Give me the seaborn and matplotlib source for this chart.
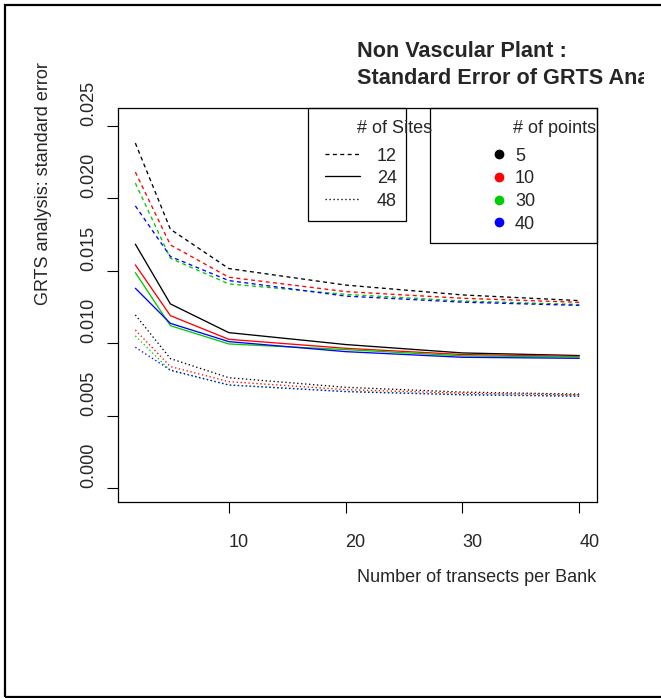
import matplotlib
matplotlib.use("Agg")
import matplotlib.pyplot as plt
import numpy as np
import pandas as pd
import seaborn as sns
from matplotlib.patches import Rectangle
from matplotlib.lines import Line2D
from matplotlib.transforms import Bbox, TransformedBbox

# ---- data -------------------------------------------------------------
transects = [2, 5, 10, 20, 30, 40]
point_levels = ["5", "10", "30", "40"]
site_levels = ["12", "24", "48"]
x_ticks = [10, 20, 30, 40]
y_ticks = [0.000, 0.005, 0.010, 0.015, 0.020, 0.025]
y_tick_labels = ["0.000", "0.005", "0.010", "0.015", "0.020", "0.025"]

# standard error by number of points, one table per number of sites
se_sites12 = {
    "5":  [0.02379, 0.01785, 0.01514, 0.01400, 0.01332, 0.01293],
    "10": [0.02179, 0.01677, 0.01454, 0.01355, 0.01309, 0.01281],
    "30": [0.02103, 0.01585, 0.01408, 0.01336, 0.01290, 0.01266],
    "40": [0.01946, 0.01597, 0.01431, 0.01324, 0.01282, 0.01260],
}
se_sites24 = {
    "5":  [0.01682, 0.01270, 0.01072, 0.00990, 0.00932, 0.00914],
    "10": [0.01539, 0.01189, 0.01026, 0.00964, 0.00921, 0.00908],
    "30": [0.01486, 0.01120, 0.00994, 0.00955, 0.00912, 0.00904],
    "40": [0.01378, 0.01136, 0.01010, 0.00941, 0.00902, 0.00895],
}
se_sites48 = {
    "5":  [0.01194, 0.00893, 0.00761, 0.00695, 0.00662, 0.00648],
    "10": [0.01090, 0.00838, 0.00734, 0.00679, 0.00654, 0.00643],
    "30": [0.01049, 0.00810, 0.00711, 0.00667, 0.00645, 0.00636],
    "40": [0.00971, 0.00814, 0.00711, 0.00665, 0.00643, 0.00633],
}

point_colors = ["black", "#FF0000", "#00CD00", "#0000FF"]
site_dashes = [(3.0, 2.6), "", (1.0, 2.0)]

rows = []
for site, table in zip(site_levels, [se_sites12, se_sites24, se_sites48]):
    for pts in point_levels:
        for t, v in zip(transects, table[pts]):
            rows.append({"transects": t, "se": v, "points": pts, "sites": site})
df = pd.DataFrame(rows)

# ---- figure -----------------------------------------------------------
sns.set_style("white")
plt.rcParams["font.family"] = ["Liberation Sans", "DejaVu Sans"]

W, H, DPI = 661, 698, 100
fig = plt.figure(figsize=(W / DPI, H / DPI), dpi=DPI)
fig.patch.set_facecolor("white")


def fxy(x, y):
    """Pixel position (origin top-left) to figure fraction."""
    return (x / W, 1 - y / H)


p_left, p_right, p_top, p_bottom = 117.6, 597.0, 108.3, 502.3
ax = fig.add_axes([p_left / W, 1 - p_bottom / H,
                   (p_right - p_left) / W, (p_bottom - p_top) / H])

sns.lineplot(
    data=df, x="transects", y="se",
    hue="points", hue_order=point_levels,
    palette=dict(zip(point_levels, point_colors)),
    style="sites", style_order=site_levels,
    dashes=dict(zip(site_levels, site_dashes)),
    linewidth=0.95, errorbar=None, legend=False, ax=ax,
)

ax.set_xlim(0.48, 41.52)
ax.set_ylim(-0.00098, 0.02619)

for sp in ax.spines.values():
    sp.set_visible(True)
    sp.set_color("black")
    sp.set_linewidth(0.9)

base_fs = 13
ax.set_xticks(x_ticks)
ax.set_xticklabels([str(v) for v in x_ticks], ha="left", va="baseline",
                   fontsize=base_fs)
ax.set_yticks(y_ticks)
ax.set_yticklabels(y_tick_labels, rotation=90, rotation_mode="anchor",
                   ha="left", va="baseline", fontsize=base_fs)
ax.tick_params(axis="x", bottom=True, direction="out", length=8.0,
               width=0.8, color="black", pad=24.5)
ax.tick_params(axis="y", left=True, direction="out", length=8.0,
               width=0.8, color="black", pad=9.4)

ax.set_xlabel("Number of transects per Bank", fontsize=base_fs,
              ha="left", va="baseline")
ax.xaxis.set_label_coords((356.7 - p_left) / (p_right - p_left),
                          (p_bottom - 581.5) / (p_bottom - p_top))
ax.set_ylabel("GRTS analysis: standard error", fontsize=base_fs,
              rotation=90, rotation_mode="anchor", ha="left", va="baseline")
ax.yaxis.set_label_coords((48.3 - p_left) / (p_right - p_left), 0.5)

# ---- title (left-anchored, clipped at the right) -------------------------
clip = TransformedBbox(Bbox.from_extents(0, 0, 644 / W, 1), fig.transFigure)
for line, base in [("Non Vascular Plant :", 57.3),
                   ("Standard Error of GRTS Analysis", 84.3)]:
    t = fig.text(*fxy(357.3, base), line, fontsize=15.6, fontweight="bold",
                 ha="left", va="baseline")
    t.set_clip_box(clip)
    t.set_clip_on(True)

# ---- legends ----------------------------------------------------------
def add_box(x0, y0, x1, y1):
    fig.add_artist(Rectangle(fxy(x0, y1), (x1 - x0) / W, (y1 - y0) / H,
                             transform=fig.transFigure, fill=False,
                             ec="black", lw=0.9))

entry_base = [160.7, 183.3, 206.0, 228.7]

add_box(308.3, 108.3, 405.7, 220.7)
fig.text(*fxy(357.3, 132.7), "# of Sites", fontsize=base_fs,
         ha="left", va="baseline")
for i, (site, dash) in enumerate(zip(site_levels, site_dashes)):
    yb = entry_base[i]
    (x0, y0), (x1, _) = fxy(325, yb - 7), fxy(360, yb - 7)
    ln = Line2D([x0, x1], [y0, y0], transform=fig.transFigure,
                color="black", lw=0.95)
    ln.set_dashes(dash)
    fig.add_artist(ln)
    fig.text(*fxy(376.7, yb), site, fontsize=base_fs, ha="left",
             va="baseline")

add_box(430.0, 108.3, 596.7, 243.3)
fig.text(*fxy(513.3, 132.7), "# of points", fontsize=base_fs,
         ha="left", va="baseline")
for i, (pts, col) in enumerate(zip(point_levels, point_colors)):
    yb = entry_base[i]
    mx, my = fxy(499, yb - 6.5)
    fig.add_artist(Line2D([mx], [my], transform=fig.transFigure, marker="o",
                          markersize=6, color=col, lw=0))
    fig.text(*fxy(515, yb), pts, fontsize=base_fs, ha="left", va="baseline")

# ---- outer frame ------------------------------------------------------
fig.add_artist(Rectangle(fxy(5, 697), 700 / W, (697 - 5) / H,
                         transform=fig.transFigure, fill=False,
                         ec="black", lw=1.6))

fig.savefig("out.png", dpi=DPI, facecolor="white")
